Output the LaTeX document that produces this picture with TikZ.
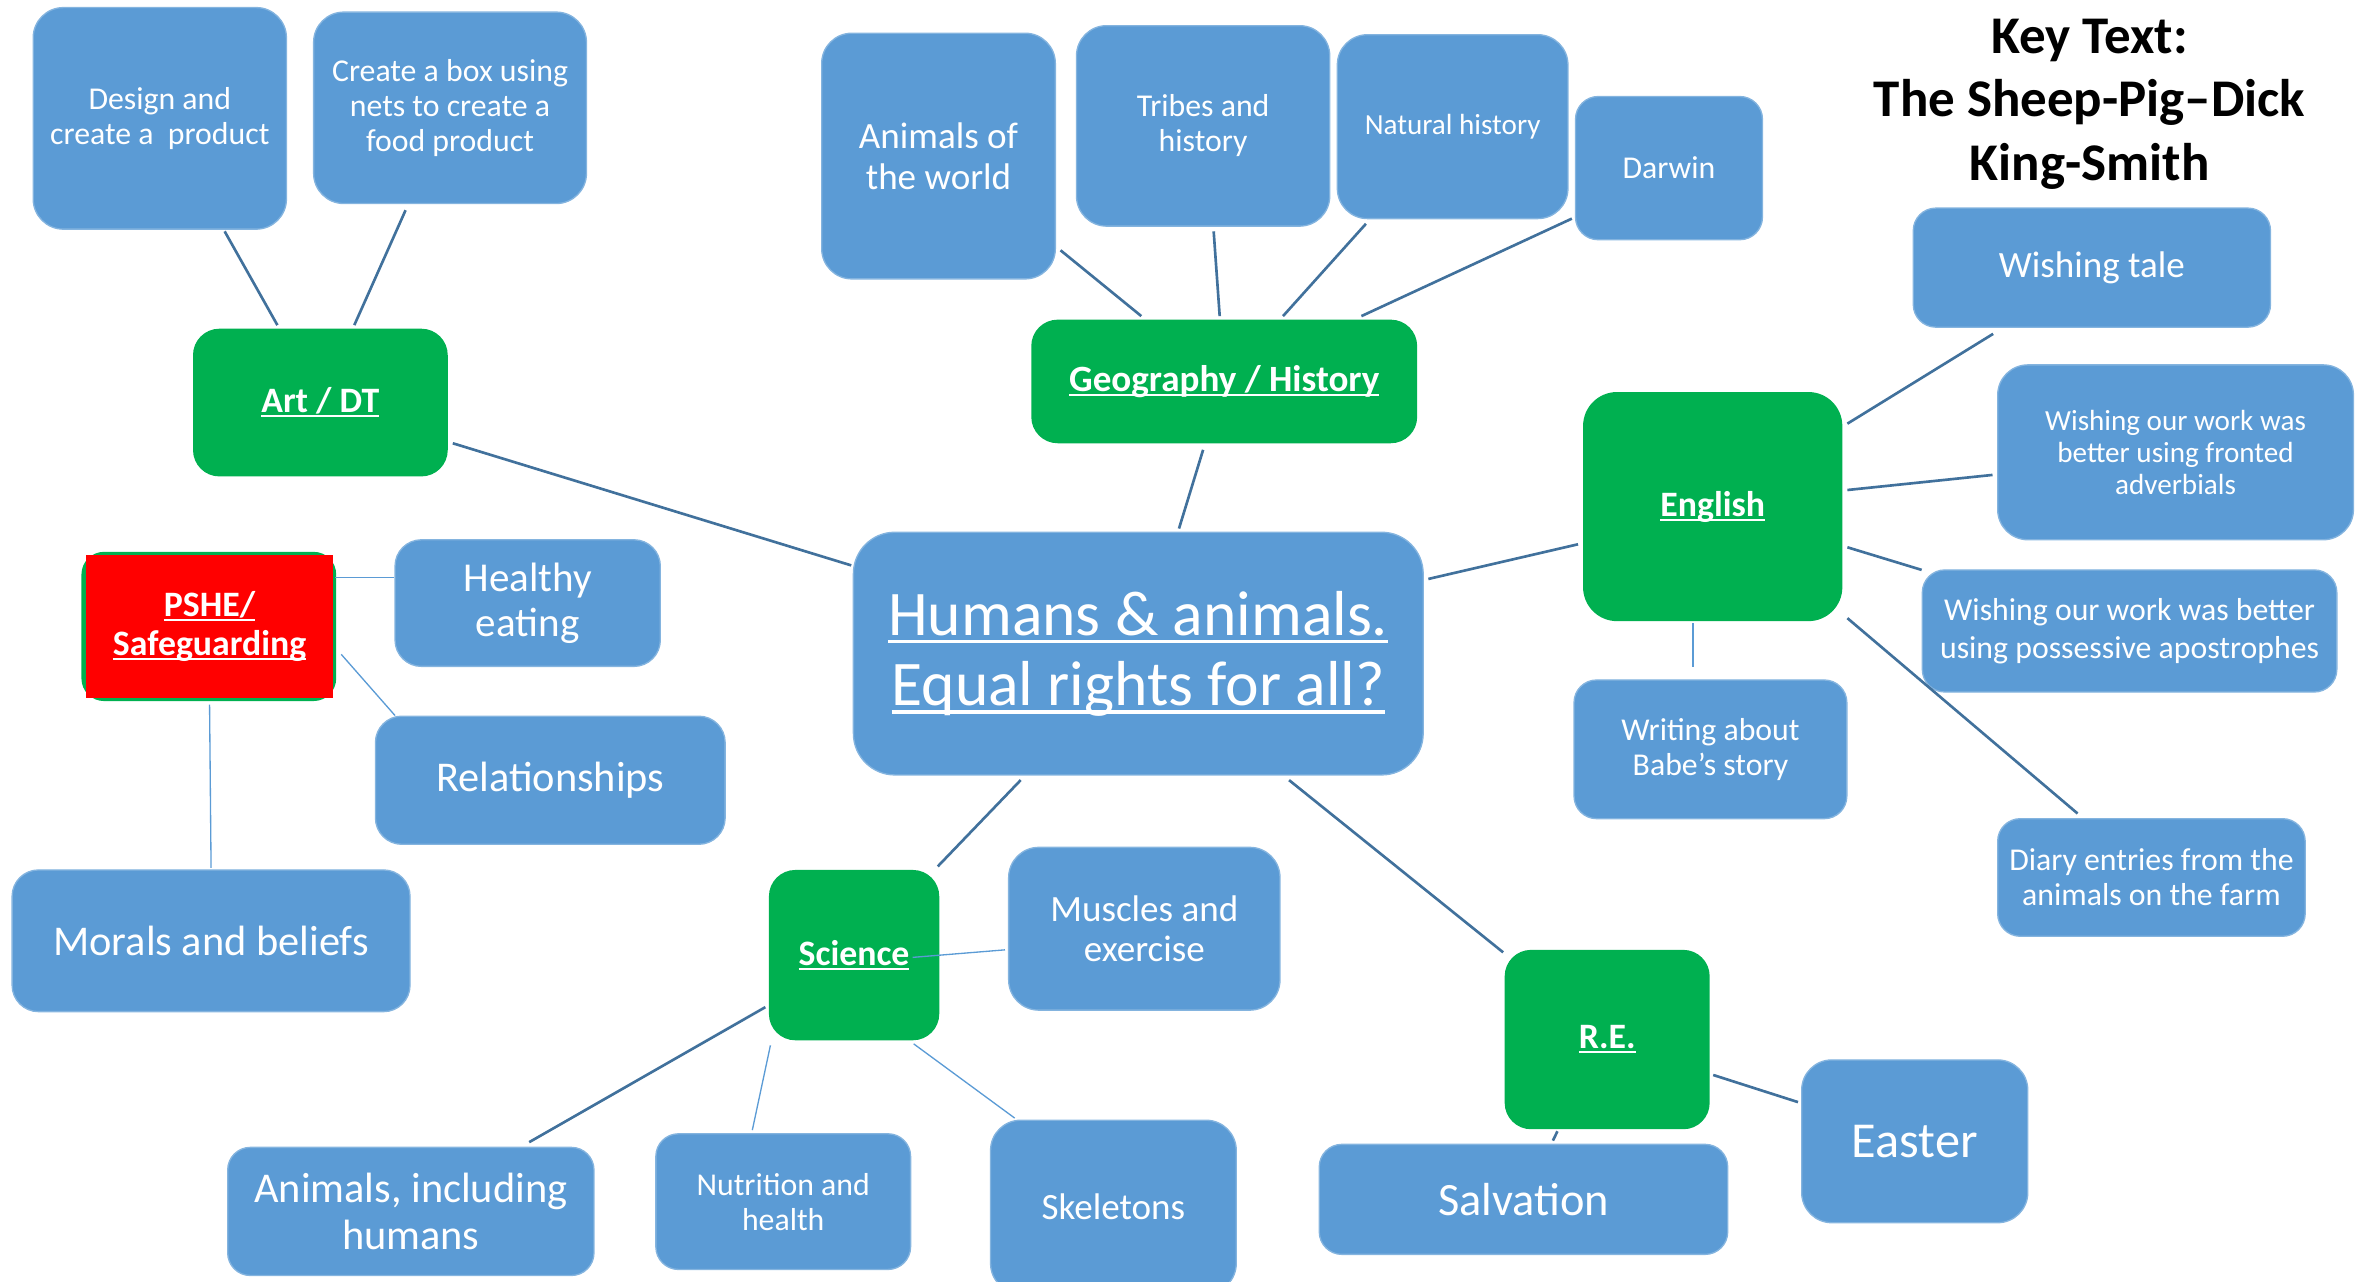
\documentclass[tikz,border=0pt]{standalone}
\usepackage{fontspec}
\setmainfont{Carlito}
\usetikzlibrary{calc}

\definecolor{boxblue}{HTML}{5B9BD5}
\definecolor{subjgreen}{HTML}{00B050}
\definecolor{linkblue}{HTML}{41719C}

\newsavebox\ulsave
\newcommand{\ulword}[1]{\sbox\ulsave{#1}\rlap{\rule[-0.13em]{\wd\ulsave}{0.06em}}\usebox\ulsave}

\begin{document}
\begin{tikzpicture}[x=0.02cm, y=-0.02cm,
  topic/.style={draw=boxblue!75!white, line width=0.5pt, fill=boxblue, text=white,
    rounded corners=0.4cm, align=center, inner sep=0pt},
  subject/.style={fill=subjgreen, text=white, rounded corners=0.35cm, align=center,
    inner sep=0pt, font=\bfseries\fontsize{13.5}{15}\selectfont},
  link/.style={draw=linkblue, line width=1pt},
  thinlink/.style={draw=boxblue, line width=0.5pt}]
  \clip (0,0) rectangle (1568,850);

% Art / DT
\node[topic, minimum width=3.36cm, minimum height=2.94cm, font=\fontsize{12}{13.2}\selectfont] (design) at (106,78.5) {Design and\\create a~~product};
\node[topic, minimum width=3.62cm, minimum height=2.54cm, font=\fontsize{12}{13.2}\selectfont] (netbox) at (298.5,71.5) {Create a box using\\nets to create a\\food product};
\node[subject, minimum width=3.38cm, minimum height=1.96cm] (art) at (212.5,267) {\ulword{Art / DT}};

% Geography / History
\node[topic, minimum width=3.10cm, minimum height=3.26cm, font=\fontsize{14}{15.4}\selectfont] (animw) at (622.5,103.5) {Animals of\\the world};
\node[topic, minimum width=3.36cm, minimum height=2.66cm, font=\fontsize{12}{13.2}\selectfont] (tribes) at (798,83.5) {Tribes and\\history};
\node[topic, minimum width=3.06cm, minimum height=2.44cm, font=\fontsize{11}{12.1}\selectfont] (natural) at (963.5,84) {Natural history};
\node[topic, minimum width=2.48cm, minimum height=1.90cm, rounded corners=0.3cm, font=\fontsize{12}{13.2}\selectfont] (darwin) at (1107,111.5) {Darwin};
\node[subject, minimum width=5.12cm, minimum height=1.64cm, font=\bfseries\fontsize{14}{15.5}\selectfont] (geo) at (812,253) {\ulword{Geography / History}};

% key text
\node[align=center, inner sep=0pt, font=\bfseries\fontsize{20}{24}\selectfont] (keytext) at (1386,69) {Key Text:\\The Sheep-Pig–Dick\\King-Smith};

% English
\node[topic, minimum width=4.74cm, minimum height=1.58cm, rounded corners=0.3cm, font=\fontsize{14}{15.4}\selectfont] (wtale) at (1387.5,177.5) {Wishing tale};
\node[topic, minimum width=4.72cm, minimum height=2.32cm, font=\fontsize{11}{12.1}\selectfont] (fronted) at (1443,300) {Wishing our work was\\better using fronted\\adverbials};
\node[topic, minimum width=5.50cm, minimum height=1.62cm, rounded corners=0.3cm, font=\fontsize{12}{14.2}\selectfont] (poss) at (1412.5,418.5) {Wishing our work was better\\using possessive apostrophes};
\node[subject, minimum width=3.44cm, minimum height=3.04cm, rounded corners=0.45cm] (english) at (1136,336) {\ulword{English}};
\node[topic, minimum width=3.62cm, minimum height=1.84cm, rounded corners=0.3cm, font=\fontsize{12}{13.2}\selectfont] (writing) at (1134.5,497) {Writing about\\Babe’s story};
\node[topic, minimum width=4.08cm, minimum height=1.56cm, rounded corners=0.3cm, font=\fontsize{12}{13.2}\selectfont] (diary) at (1427,582) {Diary entries from the\\animals on the farm};

% centre
\node[topic, minimum width=7.56cm, minimum height=3.22cm, rounded corners=0.55cm, font=\fontsize{24}{26.5}\selectfont] (central) at (755,433.5) {\ulword{Humans \& animals.}\\\ulword{Equal rights for all?}};

% PSHE
\node[fill=subjgreen, rounded corners=0.3cm, minimum width=3.38cm, minimum height=1.98cm, inner sep=0pt] (pshebg) at (138.5,415.5) {};
\node[fill=red, text=white, align=center, inner sep=0pt, minimum width=3.28cm, minimum height=1.90cm, font=\bfseries\fontsize{13.5}{14.8}\selectfont] (pshe) at (139,415.5) {\ulword{PSHE/}\\\ulword{Safeguarding}};
\node[topic, minimum width=3.52cm, minimum height=1.68cm, rounded corners=0.35cm, font=\fontsize{15.5}{17}\selectfont] (healthy) at (350,400) {Healthy\\eating};
\node[topic, minimum width=4.64cm, minimum height=1.70cm, rounded corners=0.35cm, font=\fontsize{16}{17.6}\selectfont] (relation) at (365,517.5) {Relationships};
\node[topic, minimum width=5.28cm, minimum height=1.88cm, rounded corners=0.35cm, font=\fontsize{16}{17.6}\selectfont] (morals) at (140,624) {Morals and beliefs};

% Science
\node[subject, minimum width=2.26cm, minimum height=2.26cm] (science) at (566.5,633.5) {\ulword{Science}};
\node[topic, minimum width=3.60cm, minimum height=2.16cm, font=\fontsize{14}{15.4}\selectfont] (muscles) at (759,616) {Muscles and\\exercise};
\node[topic, minimum width=4.86cm, minimum height=1.70cm, rounded corners=0.3cm, font=\fontsize{16}{17.6}\selectfont] (animh) at (272.5,803.5) {Animals, including\\humans};
\node[topic, minimum width=3.38cm, minimum height=1.80cm, rounded corners=0.3cm, font=\fontsize{12}{13.2}\selectfont] (nutr) at (519.5,797) {Nutrition and\\health};
\node[topic, minimum width=3.26cm, minimum height=2.30cm, font=\fontsize{14}{15.4}\selectfont] (skel) at (738.5,800.5) {Skeletons};

% R.E.
\node[subject, minimum width=2.72cm, minimum height=2.38cm] (re) at (1066,689.5) {\ulword{R.E.}};
\node[topic, minimum width=5.42cm, minimum height=1.46cm, rounded corners=0.3cm, font=\fontsize{17.5}{19}\selectfont] (salv) at (1010.5,795.5) {Salvation};
\node[topic, minimum width=3.00cm, minimum height=2.16cm, font=\fontsize{19}{21}\selectfont] (easter) at (1270,757) {Easter};

% connectors
\draw[link] ([shift={(43,1)}]design.south) -- ([shift={(-28.5,-2)}]art.north);
\draw[link] ([shift={(-29.5,4)}]netbox.south) -- ([shift={(22.5,-2)}]art.north);
\draw[link] ([shift={(3,27)}]art.east) -- ([shift={(-1,-58.5)}]central.west);

\draw[link] ([shift={(3,62.5)}]animw.east) -- ([shift={(-55,-2)}]geo.north);
\draw[link] ([shift={(7,3)}]tribes.south) -- ([shift={(-3,-2)}]geo.north);
\draw[link] ([shift={(-57.5,3)}]natural.south) -- ([shift={(39,-2)}]geo.north);
\draw[link] ([shift={(-2,33.5)}]darwin.west) -- ([shift={(91,-2)}]geo.north);
\draw[link] ([shift={(-14,4)}]geo.south) -- ([shift={(27,-2)}]central.north);

\draw[link] ([shift={(-3,25)}]english.west) -- ([shift={(3,-49.5)}]central.east);
\draw[link] ([shift={(3,-55)}]english.east) -- ([shift={(-65.5,4)}]wtale.south);
\draw[link] ([shift={(3,-11)}]english.east) -- ([shift={(-3,15)}]fronted.west);
\draw[link] ([shift={(3,27)}]english.east) -- ([shift={(0,-40.5)}]poss.west);
\draw[link] ([shift={(3,74)}]english.east) -- ([shift={(-49,-3)}]diary.north);
\draw[thinlink] ([shift={(-13,1)}]english.south) -- ([shift={(-11.5,-8)}]writing.north);

\draw[thinlink] ([shift={(1,-32.5)}]pshe.east) -- ([shift={(0,-17)}]healthy.west);
\draw[thinlink] ([shift={(5,18.5)}]pshe.east) -- ([shift={(-103,0)}]relation.north);
\draw[thinlink] ([shift={(0,4)}]pshe.south) -- ([shift={(0,-1)}]morals.north);

\draw[link] ([shift={(-78,3)}]central.south) -- ([shift={(55.5,-2)}]science.north);
\draw[link] ([shift={(100,3)}]central.south) -- ([shift={(-69,2)}]re.north);

\draw[thinlink] ([shift={(-18,1.5)}]science.east) -- ([shift={(-2,14)}]muscles.west);
\draw[link] ([shift={(-2,34.5)}]science.west) -- ([shift={(78.5,-3)}]animh.north);
\draw[thinlink] ([shift={(-55.5,3)}]science.south) -- ([shift={(-20.5,-2)}]nutr.north);
\draw[thinlink] ([shift={(39.5,2)}]science.south) -- ([shift={(-65.5,-1)}]skel.north);

\draw[link] ([shift={(2,23.5)}]re.east) -- ([shift={(-2,-26)}]easter.west);
\draw[link] ([shift={(-33,1)}]re.south) -- ([shift={(19.5,-2)}]salv.north);
\end{tikzpicture}
\end{document}
